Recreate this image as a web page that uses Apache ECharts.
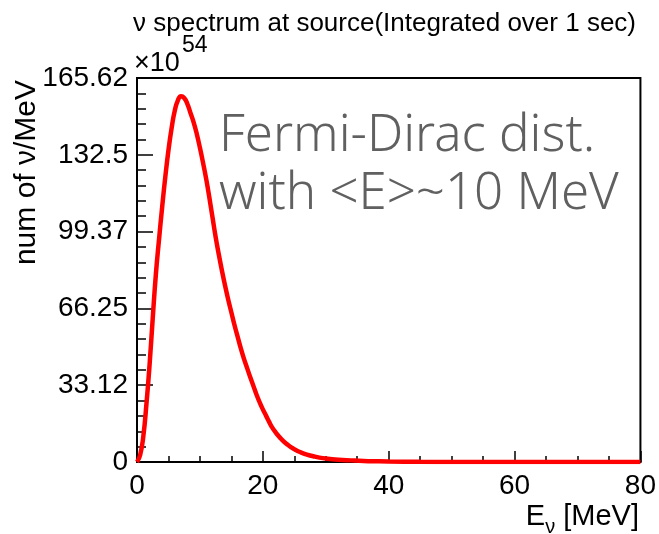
<!DOCTYPE html>
<html>
<head>
<meta charset="utf-8">
<script src="https://cdn.jsdelivr.net/npm/echarts@6/dist/echarts.min.js"></script>
<style>
  html, body { margin: 0; padding: 0; background: #fff; }
  #chart { width: 659px; height: 534px; }
</style>
</head>
<body>
<div id="chart"></div>
<script>
// energy points [MeV]
const energies = [0, 0.5, 1, 1.5, 2, 2.5, 3, 3.5, 4, 4.5, 5, 5.5, 6, 6.5, 7, 7.5, 8, 8.5, 9, 9.5,
  10, 10.5, 11, 11.5, 12, 12.5, 13, 13.5, 14, 14.5, 15, 15.5, 16, 16.5, 17, 17.5, 18, 18.5, 19, 19.5,
  20, 20.5, 21, 21.5, 22, 22.5, 23, 23.5, 24, 24.5, 25, 26, 27, 28, 29, 30, 32, 34, 36, 38,
  40, 45, 50, 60, 70, 80]
// num of nu / MeV, in units of 1e54
const counts = [0, 3, 11, 25, 42, 62, 81, 96, 110, 123, 134.5, 144, 151.5, 156, 157.7, 157, 154.5, 150.5, 146.5, 141.5,
  135.5, 129, 122, 114, 105.5, 97, 89.5, 82.5, 76, 70, 64.5, 59, 54, 49, 44.5, 40.5, 36.5, 32.8, 29, 25.7,
  22.7, 20, 17.3, 14.8, 12.9, 11.2, 9.7, 8.4, 7.3, 6.3, 5.5, 4.2, 3.2, 2.5, 1.9, 1.5, 1, 0.7, 0.45, 0.3,
  0.2, 0.08, 0.03, 0, 0, 0]

const xTickLabels = ['0', '20', '40', '60', '80']
const yTickLabels = ['0', '33.12', '66.25', '99.37', '132.5', '165.62']

const yMax = 165.62
const yStep = yMax / 5

const font = 'Liberation Sans, Arial, Helvetica, sans-serif'

const chart = echarts.init(document.getElementById('chart'))

chart.setOption({
  animation: false,
  backgroundColor: '#fff',
  title: {
    text: 'ν spectrum at source(Integrated over 1 sec)',
    right: 18,
    top: 6,
    textStyle: { fontFamily: font, fontSize: 26, fontWeight: 'normal', color: '#000' }
  },
  // frame around the plot
  grid: {
    left: 137, right: 18, top: 78, bottom: 72,
    show: true, borderColor: '#000', borderWidth: 2
  },
  xAxis: {
    type: 'value',
    min: 0, max: 80, interval: 20,
    axisLine: { show: true, lineStyle: { color: '#000', width: 2 } },
    axisTick: { show: true, inside: true, length: 11, lineStyle: { color: '#000', width: 1.5 } },
    minorTick: { show: true, splitNumber: 4, length: 6, lineStyle: { color: '#000', width: 1.5 } },
    splitLine: { show: false },
    axisLabel: {
      margin: 10, color: '#000', fontFamily: font, fontSize: 28,
      showMinLabel: true, showMaxLabel: true,
      formatter: v => xTickLabels[Math.round(v / 20)]
    }
  },
  yAxis: {
    type: 'value',
    min: 0, max: yMax, interval: yStep,
    axisLine: { show: true, lineStyle: { color: '#000', width: 2 } },
    axisTick: { show: true, inside: true, length: 16, lineStyle: { color: '#000', width: 1.5 } },
    minorTick: { show: true, splitNumber: 5, length: 9, lineStyle: { color: '#000', width: 1.5 } },
    splitLine: { show: false },
    axisLabel: {
      margin: 9, color: '#000', fontFamily: font, fontSize: 28,
      showMinLabel: true, showMaxLabel: true,
      formatter: v => yTickLabels[Math.round(v / yStep)]
    }
  },
  series: [
    {
      type: 'line',
      data: energies.map((e, i) => [e, counts[i]]),
      showSymbol: false,
      smooth: 0.5,
      clip: true,
      lineStyle: { color: '#ff0000', width: 4.5 }
    }
  ],
  graphic: [
    // y axis title
    {
      type: 'text', x: 27, y: 80, rotation: Math.PI / 2,
      style: { text: 'num of ν/MeV', font: '30px ' + font, fill: '#000', align: 'right', verticalAlign: 'middle' }
    },
    // x axis title
    {
      type: 'text', x: 639, y: 502,
      style: {
        text: '{t|E}{s|ν}{t| [MeV]}',
        align: 'right', verticalAlign: 'top',
        rich: {
          t: { fontFamily: font, fontSize: 29, lineHeight: 31, verticalAlign: 'top', fill: '#000' },
          s: { fontFamily: font, fontSize: 20, lineHeight: 21, verticalAlign: 'top', padding: [15, 0, 0, 0], fill: '#000' }
        }
      }
    },
    // exponent
    {
      type: 'text', x: 134, y: 64,
      style: { text: '×10', font: '27px ' + font, fill: '#000', align: 'left', verticalAlign: 'middle' }
    },
    {
      type: 'text', x: 182, y: 46,
      style: { text: '54', font: '23px ' + font, fill: '#000', align: 'left', verticalAlign: 'middle' }
    },
    // annotation
    {
      type: 'text', x: 219, y: 136,
      style: { text: 'Fermi-Dirac dist.', font: '300 51px "Noto Sans", sans-serif', fill: '#606060', align: 'left', verticalAlign: 'middle' }
    },
    {
      type: 'text', x: 219, y: 194,
      style: { text: 'with <E>~10 MeV', font: '300 51px "Noto Sans", sans-serif', fill: '#606060', align: 'left', verticalAlign: 'middle' }
    }
  ]
})
</script>
</body>
</html>
